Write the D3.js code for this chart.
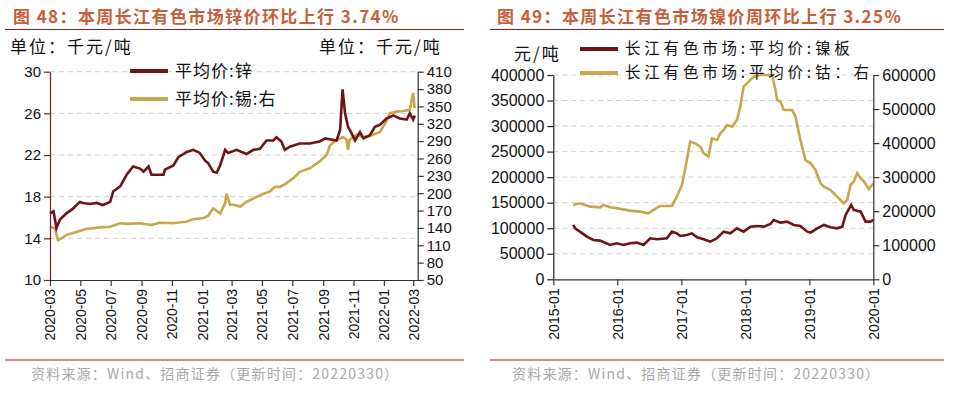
<!DOCTYPE html>
<html>
<head>
<meta charset="utf-8">
<script src="https://cdn.jsdelivr.net/npm/d3@7"></script>
<style>
  body { margin: 0; background: #fff; }
  svg { display: block; }
  text { font-family: "Liberation Sans", Arial, sans-serif; }
  .cjk { font-family: "Noto Sans CJK SC", sans-serif; }
</style>
</head>
<body>
<svg id="chart" width="973" height="395"></svg>
<script>
// ---- data: fig 48 (zinc left axis, tin right axis, thousand yuan/t) ----
const zincDates = ['2020-03-01','2020-03-08','2020-03-14','2020-03-21','2020-04-03','2020-04-15','2020-04-30','2020-05-07','2020-05-20','2020-06-03','2020-06-15','2020-06-30','2020-07-06','2020-07-20','2020-08-02','2020-08-15','2020-08-29','2020-09-05','2020-09-15','2020-09-21','2020-10-15','2020-10-18','2020-11-04','2020-11-14','2020-12-01','2020-12-14','2020-12-27','2021-01-06','2021-01-13','2021-01-23','2021-01-30','2021-02-06','2021-02-16','2021-02-22','2021-03-11','2021-03-31','2021-04-14','2021-04-27','2021-05-10','2021-05-24','2021-05-30','2021-06-09','2021-06-16','2021-06-26','2021-07-16','2021-08-05','2021-08-25','2021-09-05','2021-09-28','2021-10-05','2021-10-10','2021-10-15','2021-10-21','2021-10-28','2021-11-04','2021-11-14','2021-11-21','2021-12-04','2021-12-14','2021-12-24','2022-01-06','2022-01-20','2022-02-02','2022-02-16','2022-02-22','2022-03-01','2022-03-04'];
const zincValues = [16.4,16.6,15.0,15.8,16.4,16.8,17.5,17.4,17.3,17.4,17.2,17.5,18.5,19.0,20.1,20.9,20.7,20.4,20.9,20.1,20.1,20.6,21.0,21.8,22.3,22.5,22.2,21.5,21.2,20.4,20.3,21.0,22.5,22.2,22.5,22.1,22.5,22.6,23.4,23.4,23.7,23.3,22.5,22.8,23.1,23.1,23.3,23.6,23.4,24.4,28.3,26.0,24.7,24.1,23.4,24.2,23.6,23.9,24.7,24.9,25.5,25.8,25.5,25.4,26.0,25.4,25.8];
const tinDates = ['2020-03-01','2020-03-11','2020-03-17','2020-03-24','2020-04-03','2020-04-23','2020-05-13','2020-06-09','2020-06-30','2020-07-20','2020-08-02','2020-08-29','2020-09-21','2020-10-08','2020-11-04','2020-12-01','2020-12-14','2021-01-03','2021-01-13','2021-01-23','2021-02-06','2021-02-16','2021-02-19','2021-02-26','2021-03-05','2021-03-18','2021-03-31','2021-04-14','2021-05-04','2021-05-17','2021-05-27','2021-06-06','2021-06-19','2021-07-03','2021-07-16','2021-08-05','2021-08-25','2021-09-08','2021-09-15','2021-09-28','2021-10-11','2021-10-18','2021-10-21','2021-10-24','2021-11-07','2021-11-21','2021-12-04','2021-12-24','2022-01-06','2022-01-13','2022-01-26','2022-02-09','2022-02-22','2022-03-01','2022-03-04'];
const tinValues = [142,139,119,122,128,133,138,141,142,148,147,148,145,149,148,151,155,157,161,174,165,183,199,180,180,177,185,191,199,203,211,211,217,226,237,243,255,266,283,292,297,293,275,292,301,297,299,306,324,338,341,342,344,373,347];
const leftTicks48 = [10, 14, 18, 22, 26, 30];
const rightTicks48 = [50, 80, 110, 140, 170, 200, 230, 260, 290, 320, 350, 380, 410];
const monthTicks48 = ['2020-03','2020-05','2020-07','2020-09','2020-11','2021-01','2021-03','2021-05','2021-07','2021-09','2021-11','2022-01','2022-03'];

// ---- data: fig 49 (nickel left axis, cobalt right axis, yuan/t) ----
const nickelDates = ['2015-04-25','2015-05-05','2015-06-02','2015-07-11','2015-08-18','2015-09-25','2015-11-21','2015-12-29','2016-02-05','2016-03-14','2016-04-22','2016-05-30','2016-07-07','2016-08-14','2016-10-10','2016-11-08','2016-12-06','2016-12-25','2017-02-01','2017-03-02','2017-03-31','2017-05-08','2017-06-15','2017-07-23','2017-08-30','2017-10-07','2017-11-14','2017-12-22','2018-01-30','2018-03-09','2018-04-16','2018-05-24','2018-06-12','2018-07-20','2018-08-27','2018-10-04','2018-11-11','2018-12-20','2019-01-08','2019-02-15','2019-03-25','2019-05-02','2019-06-09','2019-07-08','2019-07-27','2019-08-28','2019-09-12','2019-10-21','2019-11-18','2019-12-17','2020-01-01'];
const nickelValues = [106400,99800,93300,83500,77000,75700,67200,70500,67200,70500,71800,67200,80300,78300,80300,93300,90000,84800,86800,90000,82200,78300,73700,80300,93300,90000,99800,93300,103100,104400,103100,108300,116200,110900,112900,106400,104400,93300,91400,99800,106400,101800,99800,103100,126000,145500,135700,132500,112900,112900,116200];
const cobaltDates = ['2015-04-25','2015-06-02','2015-07-30','2015-09-25','2015-10-14','2015-11-21','2015-12-29','2016-03-14','2016-05-11','2016-06-27','2016-07-26','2016-09-02','2016-11-08','2016-12-06','2017-01-04','2017-02-01','2017-02-20','2017-03-21','2017-04-19','2017-05-08','2017-06-05','2017-06-24','2017-07-23','2017-08-11','2017-08-30','2017-09-18','2017-10-17','2017-11-14','2017-12-03','2017-12-22','2018-01-20','2018-02-18','2018-03-28','2018-05-05','2018-06-02','2018-06-22','2018-07-01','2018-07-20','2018-08-08','2018-09-25','2018-10-14','2018-11-11','2018-12-10','2019-01-08','2019-02-05','2019-03-06','2019-03-25','2019-05-02','2019-06-09','2019-07-17','2019-08-05','2019-08-24','2019-09-12','2019-10-01','2019-10-21','2019-11-09','2019-12-07','2020-01-01'];
const cobaltValues = [218300,223200,213400,211400,218300,211400,208500,201600,198700,193800,203600,215300,215300,242700,277000,350400,404200,399300,389600,370000,360200,414000,409100,428700,438500,453200,448300,467900,507000,565800,580400,595100,600000,600000,600000,556000,526600,521700,497200,497200,477600,409100,350400,340600,321000,281900,272100,262300,242700,223200,233000,277000,286800,311300,296600,286800,264300,281900];
const leftTicks49 = [0, 50000, 100000, 150000, 200000, 250000, 300000, 350000, 400000];
const rightTicks49 = [0, 100000, 200000, 300000, 400000, 500000, 600000];
const yearTicks49 = ['2015-01','2016-01','2017-01','2018-01','2019-01','2020-01'];

const parseDay = d3.timeParse('%Y-%m-%d');
const parseMonth = d3.timeParse('%Y-%m');
const svg = d3.select('#chart');

const DARK = '#6e1416';
const GOLD = '#c8a64b';

function drawPanel(p) {
  const g = svg.append('g');

  // title + rules
  g.append('text').attr('class', 'cjk')
    .attr('x', p.titleX).attr('y', 23)
    .attr('fill', '#c5603a').attr('font-size', 17).attr('font-weight', 'bold')
    .attr('letter-spacing', 1.4)
    .text(p.title);
  g.append('line').attr('x1', p.ruleX0).attr('x2', p.ruleX1).attr('y1', 29.5).attr('y2', 29.5)
    .attr('stroke', '#8b1a1a').attr('stroke-width', 1.2);
  g.append('line').attr('x1', p.ruleX0).attr('x2', p.ruleX1).attr('y1', 360).attr('y2', 360)
    .attr('stroke', '#a11d1d').attr('stroke-width', 1.2);
  g.append('text').attr('class', 'cjk')
    .attr('x', p.footX).attr('y', 379)
    .attr('fill', '#a8a8a8').attr('font-size', 14).attr('letter-spacing', 1.2)
    .text('资料来源：Wind、招商证券（更新时间：20220330）');

  const x = d3.scaleTime().domain(p.xDomain).range([p.x0, p.x1]);
  const yL = d3.scaleLinear().domain(d3.extent(p.leftTicks)).range([p.y1, p.y0]);
  const yR = d3.scaleLinear().domain(d3.extent(p.rightTicks)).range([p.y1, p.y0]);

  // grid
  g.append('g').selectAll('line')
    .data(p.leftTicks.slice(1))
    .enter().append('line')
      .attr('x1', p.x0).attr('x2', p.x1)
      .attr('y1', d => yL(d)).attr('y2', d => yL(d))
      .attr('stroke', '#d0d0d0').attr('stroke-dasharray', '5,4');

  // series
  const line = (ys) => d3.line().x(d => x(d.date)).y(d => ys(d.value));
  const toRows = (dates, values) => dates.map((d, i) => ({date: parseDay(d), value: values[i]}));
  g.append('path').datum(toRows(p.rDates, p.rValues))
    .attr('d', line(yR)).attr('fill', 'none').attr('stroke', GOLD).attr('stroke-width', 2.6);
  g.append('path').datum(toRows(p.lDates, p.lValues))
    .attr('d', line(yL)).attr('fill', 'none').attr('stroke', DARK).attr('stroke-width', 2.6);

  // axes
  const fmt = d3.format('d');
  const leftAxis = g.append('g').attr('transform', `translate(${p.x0},0)`)
    .call(d3.axisLeft(yL).tickValues(p.leftTicks).tickFormat(fmt).tickSize(6).tickSizeOuter(0).tickPadding(3));
  const rightAxis = g.append('g').attr('transform', `translate(${p.x1},0)`)
    .call(d3.axisRight(yR).tickValues(p.rightTicks).tickFormat(fmt).tickSize(6).tickSizeOuter(0).tickPadding(3));
  const bottomAxis = g.append('g').attr('transform', `translate(0,${p.y1})`)
    .call(d3.axisBottom(x).tickValues(p.xTicks.map(parseMonth)).tickFormat(d3.timeFormat('%Y-%m'))
      .tickSize(6).tickSizeOuter(0));
  bottomAxis.selectAll('text')
    .attr('transform', 'rotate(-90)')
    .attr('text-anchor', 'end')
    .attr('x', -9).attr('y', 0).attr('dy', '0.35em')
    .attr('font-size', 14).attr('fill', '#111');
  [leftAxis, rightAxis].forEach(a => a.selectAll('text').attr('font-size', p.tickFont).attr('fill', '#111'));
  [leftAxis, rightAxis, bottomAxis].forEach(a => a.selectAll('path,line').attr('stroke', '#333').attr('stroke-width', 1.2));
  leftAxis.selectAll('path,line').attr('stroke', p.leftAxisColor);
  [leftAxis, rightAxis, bottomAxis].forEach(a => a.attr('font-family', null));

  // units
  p.units.forEach(u => {
    g.append('text').attr('class', 'cjk')
      .attr('x', u.x).attr('y', u.y).attr('font-size', 17).attr('fill', '#111')
      .attr('letter-spacing', 2)
      .text(u.text);
  });

  // legend
  p.legend.forEach(l => {
    g.append('line').attr('x1', l.x).attr('x2', l.x + 38).attr('y1', l.y).attr('y2', l.y)
      .attr('stroke', l.color).attr('stroke-width', 4);
    g.append('text').attr('class', 'cjk')
      .attr('x', l.x + 45).attr('y', l.y).attr('dy', '0.35em')
      .attr('font-size', p.legendFont).attr('fill', '#111').attr('letter-spacing', p.legendSpacing)
      .text(l.text);
  });
}

drawPanel({
  title: '图 48：本周长江有色市场锌价环比上行 3.74%',
  titleX: 13, ruleX0: 5, ruleX1: 464, footX: 31,
  x0: 50, x1: 417.7, y0: 71.7, y1: 280,
  xDomain: [parseDay('2020-03-01'), parseDay('2022-03-10')],
  xTicks: monthTicks48,
  leftTicks: leftTicks48, rightTicks: rightTicks48, tickFont: 15,
  leftAxisColor: '#7a1d1d', legendFont: 17, legendSpacing: 1,
  lDates: zincDates, lValues: zincValues,
  rDates: tinDates, rValues: tinValues,
  units: [{x: 10, y: 53, text: '单位：千元/吨'}, {x: 319, y: 53, text: '单位：千元/吨'}],
  legend: [{x: 130, y: 71, color: DARK, text: '平均价:锌'}, {x: 130, y: 99, color: GOLD, text: '平均价:锡:右'}]
});

drawPanel({
  title: '图 49：本周长江有色市场镍价周环比上行 3.25%',
  titleX: 497, ruleX0: 490, ruleX1: 944, footX: 512,
  x0: 553.3, x1: 873.3, y0: 75, y1: 279.3,
  xDomain: [parseDay('2015-01-01'), parseDay('2020-01-01')],
  xTicks: yearTicks49,
  leftTicks: leftTicks49, rightTicks: rightTicks49, tickFont: 16,
  leftAxisColor: '#222', legendFont: 15.5, legendSpacing: 3.8,
  lDates: nickelDates, lValues: nickelValues,
  rDates: cobaltDates, rValues: cobaltValues,
  units: [{x: 514, y: 60, text: '元/吨'}],
  legend: [{x: 580, y: 49, color: DARK, text: '长江有色市场:平均价:镍板'}, {x: 580, y: 73, color: GOLD, text: '长江有色市场:平均价:钴：右'}]
});
</script>
</body>
</html>
